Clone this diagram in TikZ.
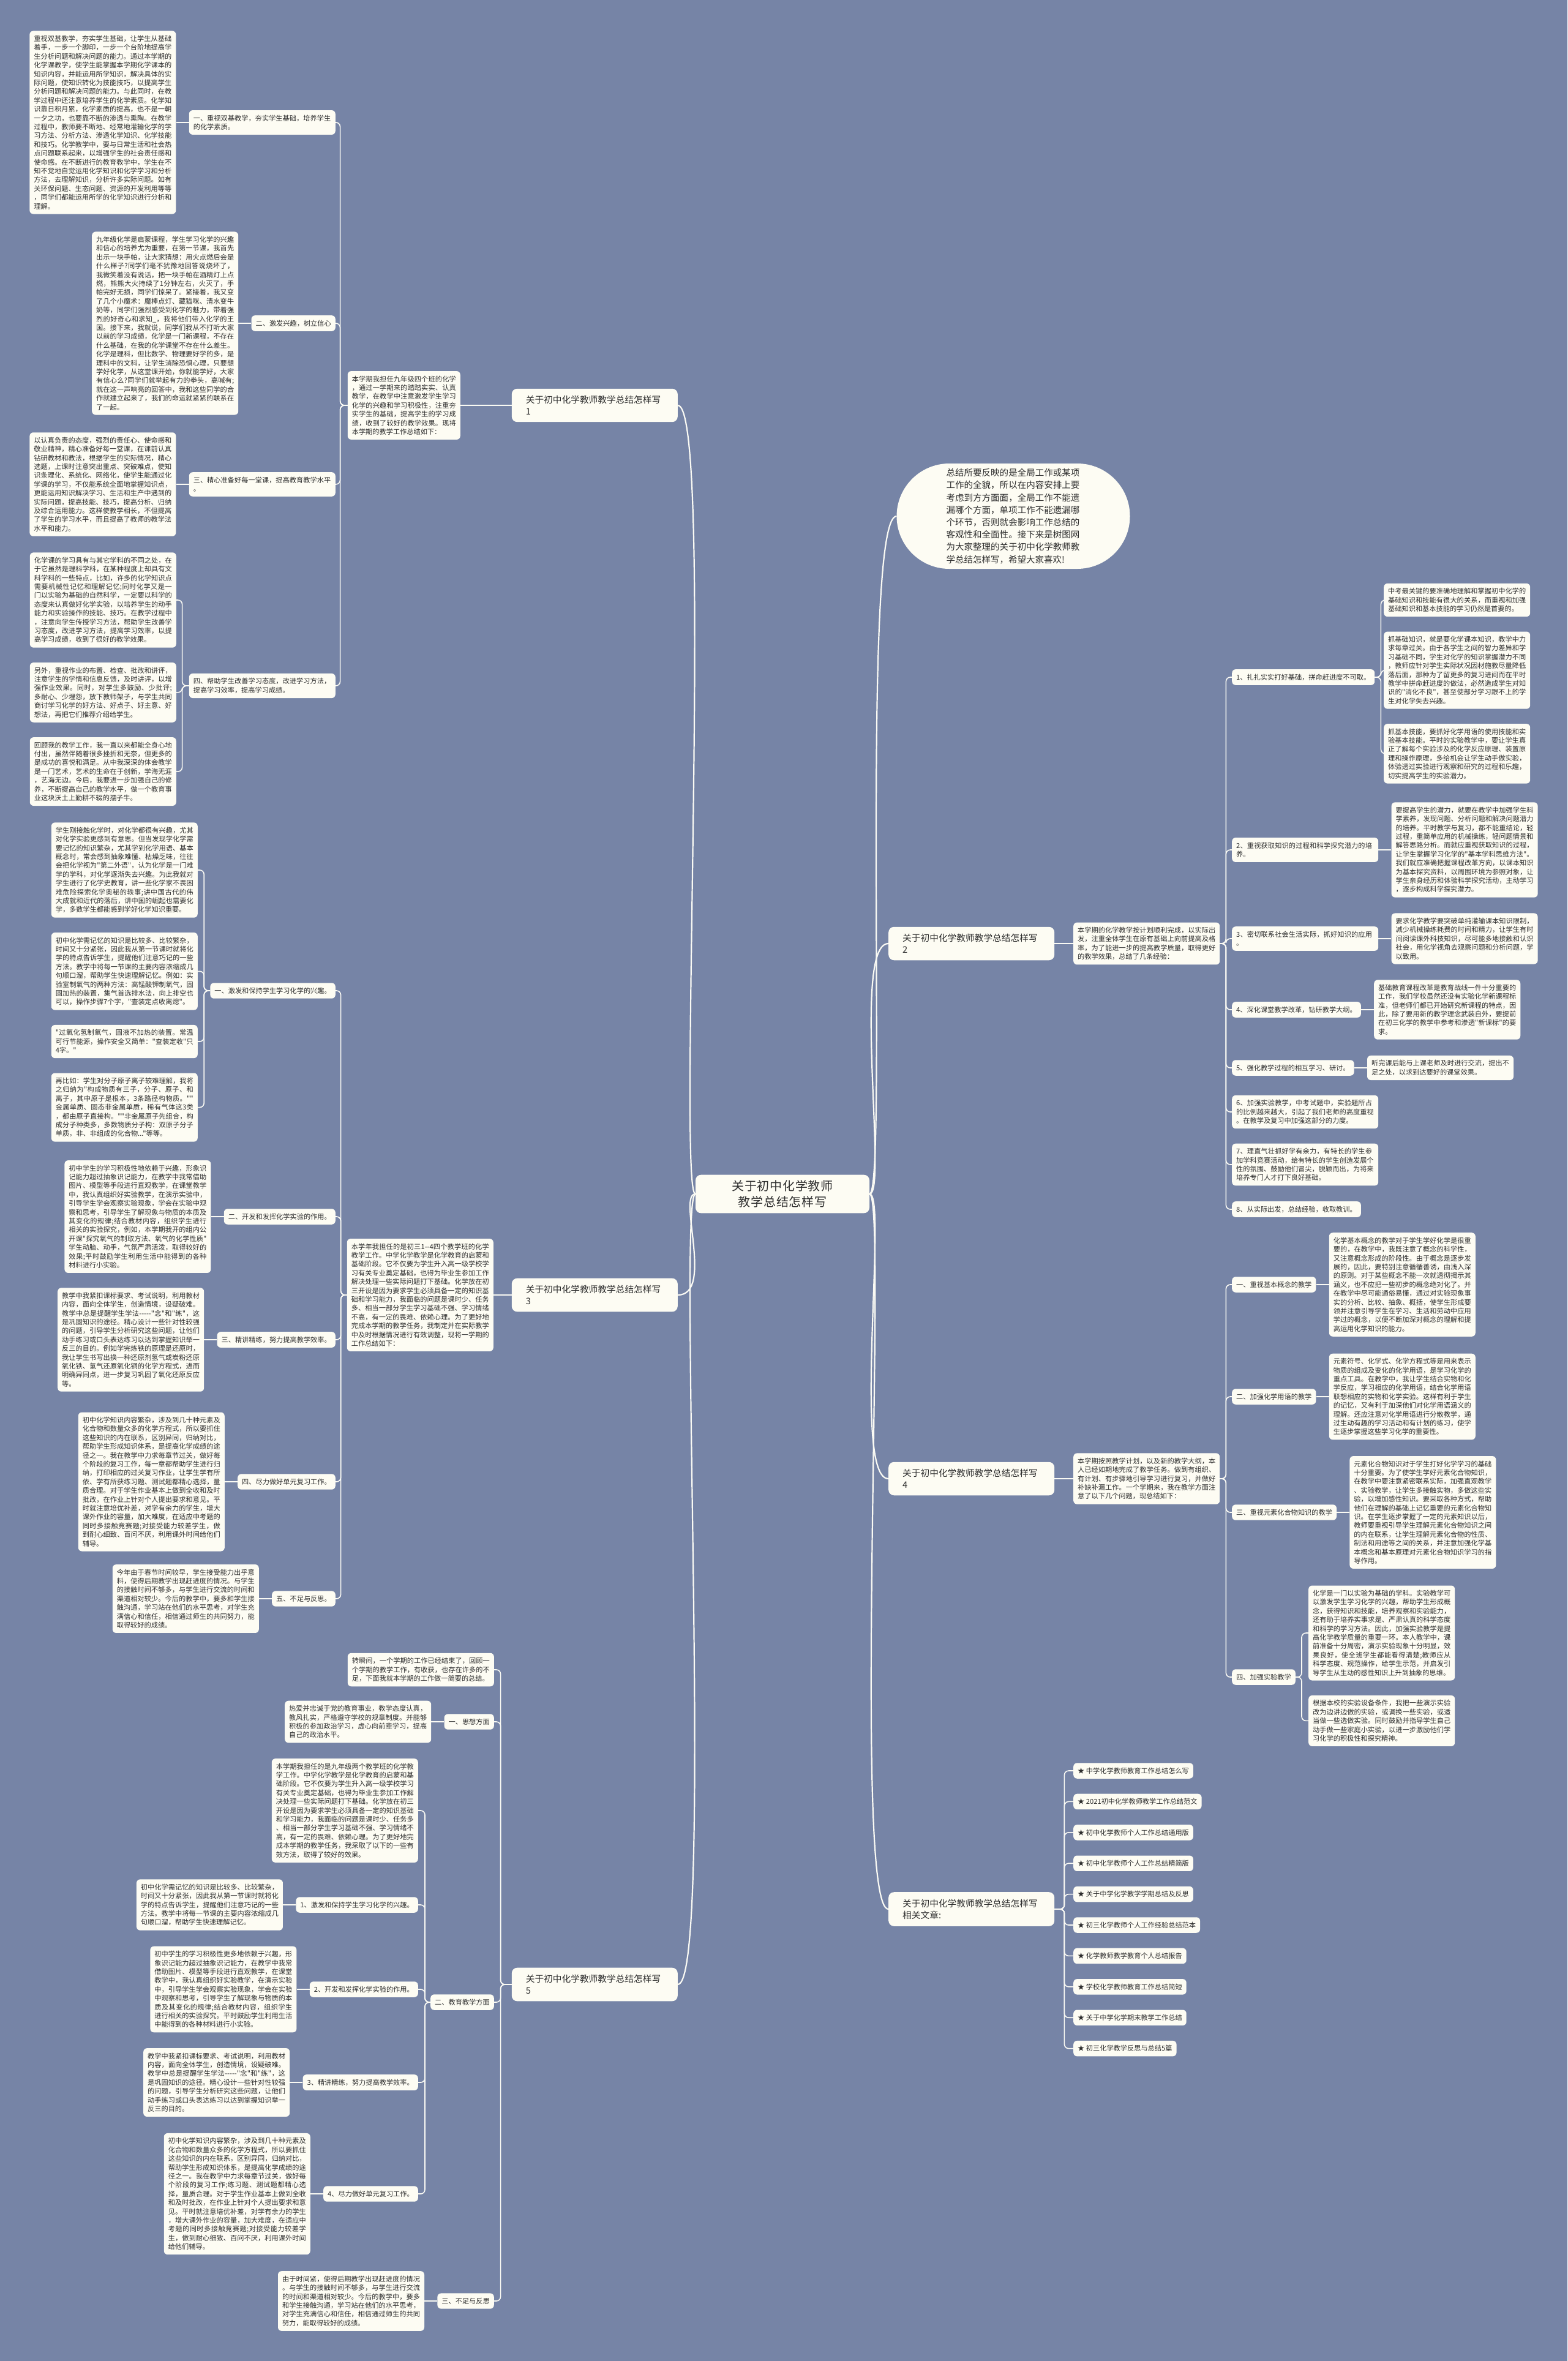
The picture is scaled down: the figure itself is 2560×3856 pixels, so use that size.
\documentclass[tikz,border=0pt]{standalone}
\usepackage{fontspec}
\usepackage{tikz}
\usetikzlibrary{positioning,shapes.misc}
\newfontfamily\cjkfont{Noto Sans CJK SC}
\makeatletter
\newcommand\cjkrange[2]{\count@=#1\relax\loop\XeTeXcharclass\count@=1\relax\ifnum\count@<#2\advance\count@ by 1\relax\repeat}
\cjkrange{"4E00}{"9FFF}
\cjkrange{"3000}{"303F}
\cjkrange{"FF00}{"FFEF}
\makeatother
\XeTeXinterchartokenstate=1
\XeTeXinterchartoks 1 1 = {\hskip 0pt plus 1pt\relax}
\XeTeXinterchartoks 0 1 = {\hskip 0pt plus 1pt\relax}
\XeTeXinterchartoks 1 0 = {\hskip 0pt plus 1pt\relax}
\tolerance=9999
\definecolor{mapbg}{RGB}{118,132,166}
\definecolor{boxfill}{RGB}{253,252,243}
\definecolor{inktext}{RGB}{45,45,45}
\definecolor{wire}{RGB}{250,250,244}
\tikzset{
	link/.style={draw=wire, line width=1.6pt, rounded corners=7pt},
	mainlink/.style={draw=wire, line width=2.2pt},
	centertopic/.style={fill=boxfill, rounded corners=9pt, text=inktext, font=\cjkfont\fontsize{20}{26}\selectfont, text width=222pt, align=center, inner xsep=31pt, inner ysep=9pt},
	summary/.style={rounded rectangle, fill=boxfill, text=inktext, font=\cjkfont\fontsize{14.5}{20.2}\selectfont, text width=219pt, align=left, inner xsep=6pt, inner ysep=8pt, minimum width=393pt, minimum height=172pt},
	branch/.style={fill=boxfill, rounded corners=9pt, text=inktext, font=\cjkfont\fontsize{14.7}{19}\selectfont, text width=225pt, align=left, inner xsep=23pt, inner ysep=11.5pt},
	subtopic/.style={fill=boxfill, rounded corners=6pt, text=inktext, font=\cjkfont\fontsize{11.2}{14.4}\selectfont, inner xsep=7pt, inner ysep=7.5pt},
	wide/.style={text width=225pt, align=left},
	detail/.style={subtopic, text width=225pt, align=justify},
	related/.style={subtopic, anchor=west}
}

\begin{document}
\begin{tikzpicture}[x=1pt,y=-1pt]

	\fill[mapbg] (0,0) rectangle (2560,3856);

	\node[centertopic] (root) at (1278,1950) {关于初中化学教师教学总结怎样写};

	\node[summary] (intro) at (1655,843) {总结所要反映的是全局工作或某项工作的全貌，所以在内容安排上要考虑到方方面面，全局工作不能遗漏哪个方面，单项工作不能遗漏哪个环节，否则就会影响工作总结的客观性和全面性。接下来是树图网为大家整理的关于初中化学教师教学总结怎样写，希望大家喜欢!};

	\node[branch, anchor=east] (b1) at (1107,662) {关于初中化学教师教学总结怎样写\\1};
	\node[branch, anchor=east] (b3) at (1107,2115) {关于初中化学教师教学总结怎样写\\3};
	\node[branch, anchor=east] (b5) at (1107,3241) {关于初中化学教师教学总结怎样写\\5};
	\node[branch, anchor=west] (b2) at (1451,1541) {关于初中化学教师教学总结怎样写\\2};
	\node[branch, anchor=west] (b4) at (1451,2415) {关于初中化学教师教学总结怎样写\\4};
	\node[branch, anchor=west] (b6) at (1451,3118) {关于初中化学教师教学总结怎样写\\相关文章:};

	\draw[mainlink] (root.east) .. controls +(30,0) and +(-60,0) .. (intro.west);
	\draw[mainlink] (root.west) .. controls +(-30,0) and +(60,0) .. (b1.east);
	\draw[mainlink] (root.west) .. controls +(-30,0) and +(60,0) .. (b3.east);
	\draw[mainlink] (root.west) .. controls +(-30,0) and +(60,0) .. (b5.east);
	\draw[mainlink] (root.east) .. controls +(30,0) and +(-60,0) .. (b2.west);
	\draw[mainlink] (root.east) .. controls +(30,0) and +(-60,0) .. (b4.west);
	\draw[mainlink] (root.east) .. controls +(30,0) and +(-60,0) .. (b6.west);

	\node[detail, text width=170pt, anchor=east] (b1i) at (752,662) {本学期我担任九年级四个班的化学，通过一学期来的踏踏实实、认真教学，在教学中注意激发学生学习化学的兴趣和学习积极性，注重夯实学生的基础，提高学生的学习成绩，收到了较好的教学效果。现将本学期的教学工作总结如下：};
	\draw[link] (b1.west) -- (b1i.east);

	\node[subtopic, wide, anchor=east] (b1s1) at (548,200) {一、重视双基教学，夯实学生基础，培养学生的化学素质。};
	\node[subtopic, anchor=east] (b1s2) at (548,528) {二、激发兴趣，树立信心};
	\node[subtopic, wide, anchor=east] (b1s3) at (548,791) {三、精心准备好每一堂课，提高教育教学水平。};
	\node[subtopic, wide, anchor=east] (b1s4) at (548,1120) {四、帮助学生改善学习态度，改进学习方法，提高学习效率，提高学习成绩。};
	\foreach \s in {b1s1,b1s2,b1s3,b1s4}
		\draw[link] (b1i.west) -- ++(-12,0) |- (\s.east);

	\node[detail, left=21pt of b1s1] (b1t1) {重视双基教学，夯实学生基础，让学生从基础着手，一步一个脚印，一步一个台阶地提高学生分析问题和解决问题的能力。通过本学期的化学课教学，使学生能掌握本学期化学课本的知识内容，并能运用所学知识，解决具体的实际问题，使知识转化为技能技巧，以提高学生分析问题和解决问题的能力。与此同时，在教学过程中还注意培养学生的化学素质。化学知识靠日积月累，化学素质的提高，也不是一朝一夕之功，也要靠不断的渗透与熏陶。在教学过程中，教师要不断地、经常地灌输化学的学习方法、分析方法、渗透化学知识、化学技能和技巧。化学教学中，要与日常生活和社会热点问题联系起来，以增强学生的社会责任感和使命感。在不断进行的教育教学中，学生在不知不觉地自觉运用化学知识和化学学习和分析方法，去理解知识，分析许多实际问题。如有关环保问题、生态问题、资源的开发利用等等，同学们都能运用所学的化学知识进行分析和理解。};
	\node[detail, left=21pt of b1s2] (b1t2) {九年级化学是启蒙课程，学生学习化学的兴趣和信心的培养尤为重要，在第一节课，我首先出示一块手帕，让大家猜想：用火点燃后会是什么样子?同学们毫不犹豫地回答说烧坏了，我微笑着没有说话，把一块手帕在酒精灯上点燃，熊熊大火持续了1分钟左右，火灭了，手帕完好无损，同学们惊呆了。紧接着，我又变了几个小魔术：魔棒点灯、藏猫咪、清水变牛奶等，同学们强烈感受到化学的魅力，带着强烈的好奇心和求知\_，我将他们带入化学的王国。接下来，我就说，同学们我从不打听大家以前的学习成绩，化学是一门新课程，不存在什么基础，在我的化学课堂不存在什么差生。化学是理科，但比数学、物理要好学的多，是理科中的文科，让学生消除恐惧心理，只要想学好化学，从这堂课开始，你就能学好，大家有信心么?同学们就举起有力的拳头，高喊有;就在这一声响亮的回答中，我和这些同学的合作就建立起来了，我们的命运就紧紧的联系在了一起。};
	\node[detail, left=21pt of b1s3] (b1t3) {以认真负责的态度，强烈的责任心、使命感和敬业精神，精心准备好每一堂课，在课前认真钻研教材和教法，根据学生的实际情况，精心选题，上课时注意突出重点、突破难点，使知识条理化、系统化、网络化，使学生能通过化学课的学习，不仅能系统全面地掌握知识点，更能运用知识解决学习、生活和生产中遇到的实际问题，提高技能、技巧，提高分析、归纳及综合运用能力。这样使教学相长，不但提高了学生的学习水平，而且提高了教师的教学法水平和能力。};
	\node[detail, anchor=east] (b1t4a) at (288,980) {化学课的学习具有与其它学科的不同之处，在于它虽然是理科学科，在某种程度上却具有文科学科的一些特点，比如，许多的化学知识点需要机械性记忆和理解记忆;同时化学又是一门以实验为基础的自然科学，一定要以科学的态度来认真做好化学实验，以培养学生的动手能力和实验操作的技能、技巧。在教学过程中，注意向学生传授学习方法，帮助学生改善学习态度，改进学习方法，提高学习效率，以提高学习成绩，收到了很好的教学效果。};
	\node[detail, below=24pt of b1t4a] (b1t4b) {另外，重视作业的布置、检查、批改和讲评，注意学生的学情和信息反馈，及时讲评，以增强作业效果。同时，对学生多鼓励、少批评;多耐心、少埋怨，放下教师架子，与学生共同商讨学习化学的好方法、好点子、好主意、好想法，再把它们推荐介绍给学生。};
	\node[detail, below=24pt of b1t4b] (b1t4c) {回顾我的教学工作，我一直以来都能全身心地付出，虽然伴随着很多挫折和无奈，但更多的是成功的喜悦和满足。从中我深深的体会教学是一门艺术，艺术的生命在于创新，学海无涯，艺海无边。今后，我要进一步加强自己的修养，不断提高自己的教学水平，做一个教育事业这块沃土上勤耕不辍的孺子牛。};
	\draw[link] (b1s1.west) -- (b1t1.east);
	\draw[link] (b1s2.west) -- (b1t2.east);
	\draw[link] (b1s3.west) -- (b1t3.east);
	\foreach \t in {b1t4a,b1t4b,b1t4c}
		\draw[link] (b1s4.west) -- ++(-11,0) |- (\t.east);

	\node[detail, anchor=east] (b3i) at (806,2115) {本学年我担任的是初三1--4四个教学班的化学教学工作。中学化学教学是化学教育的启蒙和基础阶段。它不仅要为学生升入高一级学校学习有关专业奠定基础，也得为毕业生参加工作解决处理一些实际问题打下基础。化学放在初三开设是因为要求学生必须具备一定的知识基础和学习能力，我面临的问题是课时少、任务多、相当一部分学生学习基础不强、学习情绪不高，有一定的畏难、依赖心理。为了更好地完成本学期的教学任务，我制定并在实际教学中及时根据情况进行有效调整，现将一学期的工作总结如下：};
	\draw[link] (b3.west) -- (b3i.east);

	\node[subtopic, anchor=east] (b3s1) at (548,1618) {一、激发和保持学生学习化学的兴趣。};
	\node[subtopic, anchor=east] (b3s2) at (548,1987) {二、开发和发挥化学实验的作用。};
	\node[subtopic, anchor=east] (b3s3) at (548,2188) {三、精讲精练，努力提高教学效率。};
	\node[subtopic, anchor=east] (b3s4) at (548,2420) {四、尽力做好单元复习工作。};
	\node[subtopic, anchor=east] (b3s5) at (548,2611) {五、不足与反思。};
	\foreach \s in {b3s1,b3s2,b3s3,b3s4,b3s5}
		\draw[link] (b3i.west) -- ++(-10,0) |- (\s.east);

	\node[detail, anchor=east] (b3t1a) at (323,1421) {学生刚接触化学时，对化学都很有兴趣，尤其对化学实验更感到有意思。但当发现学化学需要记忆的知识繁杂，尤其学到化学用语、基本概念时，常会感到抽象难懂、枯燥乏味，往往会把化学视为"第二外语"，认为化学是一门难学的学科，对化学逐渐失去兴趣。为此我就对学生进行了化学史教育，讲一些化学家不畏困难危险探索化学奥秘的轶事;讲中国古代的伟大成就和近代的落后，讲中国的崛起也需要化学，多数学生都能感到学好化学知识重要。};
	\node[detail, below=24pt of b3t1a] (b3t1b) {初中化学需记忆的知识是比较多、比较繁杂，时间又十分紧张，因此我从第一节课时就将化学的特点告诉学生，提醒他们注意巧记的一些方法。教学中将每一节课的主要内容浓缩成几句顺口溜，帮助学生快速理解记忆。例如：实验室制氧气的两种方法：高锰酸钾制氧气，固固加热的装置，集气首选排水法，向上排空也可以，操作步骤7个字，"查装定点收离熄"。};
	\node[detail, below=24pt of b3t1b] (b3t1c) {"过氧化氢制氧气，固液不加热的装置。常温可行节能源，操作安全又简单："查装定收"只4字。"};
	\node[detail, below=24pt of b3t1c] (b3t1d) {再比如：学生对分子原子离子较难理解，我将之归纳为"构成物质有三子，分子、原子、和离子，其中原子是根本，3条路径构物质。""金属单质、固态非金属单质，稀有气体这3类，都由原子直接构。""非金属原子先组合，构成分子种类多，多数物质分子构：双原子分子单质，非、非组成的化合物..."等等。};
	\foreach \t in {b3t1a,b3t1b,b3t1c,b3t1d}
		\draw[link] (b3s1.west) -- ++(-10,0) |- (\t.east);

	\node[detail, left=21pt of b3s2] (b3t2) {初中学生的学习积极性地依赖于兴趣，形象识记能力超过抽象识记能力，在教学中我常借助图片、模型等手段进行直观教学，在课堂教学中，我认真组织好实验教学，在演示实验中，引导学生学会观察实验现象，学会在实验中观察和思考，引导学生了解现象与物质的本质及其变化的规律;结合教材内容，组织学生进行相关的实验探究，例如，本学期我开的组内公开课"探究氧气的制取方法、氧气的化学性质"学生动脑、动手，气氛严肃活泼，取得较好的效果;平时鼓励学生利用生活中能得到的各种材料进行小实验。};
	\node[detail, left=21pt of b3s3] (b3t3) {教学中我紧扣课标要求、考试说明，利用教材内容，面向全体学生，创造情境，设疑破难。教学中总是提醒学生学法-----"念"和"练"，这是巩固知识的途径。精心设计一些针对性较强的问题，引导学生分析研究这些问题，让他们动手练习或口头表达练习以达到掌握知识举一反三的目的。例如学完炼铁的原理是还原时，我让学生书写出换一种还原剂氢气或炭粉还原氧化铁、氢气还原氧化铜的化学方程式，进而明确异同点，进一步复习巩固了氧化还原反应等。};
	\node[detail, left=21pt of b3s4] (b3t4) {初中化学知识内容繁杂，涉及到几十种元素及化合物和数量众多的化学方程式，所以要抓住这些知识的内在联系，区别异同，归纳对比，帮助学生形成知识体系，是提高化学成绩的途径之一。我在教学中力求每章节过关，做好每个阶段的复习工作，每一章都帮助学生进行归纳，打印相应的过关复习作业，让学生学有所依、学有所获练习题、测试题都精心选择，量质合理。对于学生作业基本上做到全收和及时批改，在作业上针对个人提出要求和意见。平时就注意培优补差，对学有余力的学生，增大课外作业的容量，加大难度，在适应中考题的同时多接触竞赛题;对接受能力较差学生，做到耐心细致、百问不厌，利用课外时间给他们辅导。};
	\node[detail, left=21pt of b3s5] (b3t5) {今年由于春节时间较早，学生接受能力出乎意料，使得后期教学出现赶进度的情况。与学生的接触时间不够多，与学生进行交流的时间和渠道相对较少。今后的教学中，要多和学生接触沟通，学习站在他们的水平思考，对学生充满信心和信任，相信通过师生的共同努力，能取得较好的成绩。};
	\draw[link] (b3s2.west) -- (b3t2.east);
	\draw[link] (b3s3.west) -- (b3t3.east);
	\draw[link] (b3s4.west) -- (b3t4.east);
	\draw[link] (b3s5.west) -- (b3t5.east);

	\node[detail, anchor=east] (b5i) at (807,2727) {转瞬间，一个学期的工作已经结束了，回顾一个学期的教学工作，有收获，也存在许多的不足，下面我就本学期的工作做一简要的总结。};
	\node[subtopic, anchor=east] (b5s1) at (807,2812) {一、思想方面};
	\node[subtopic, anchor=east] (b5s2) at (807,3270) {二、教育教学方面};
	\node[subtopic, anchor=east] (b5s3) at (807,3758) {三、不足与反思};
	\foreach \s in {b5i,b5s1,b5s2,b5s3}
		\draw[link] (b5.west) -- ++(-18,0) |- (\s.east);

	\node[detail, left=21pt of b5s1] (b5t1) {热爱并忠诚于党的教育事业，教学态度认真，教风扎实，严格遵守学校的规章制度。并能够积极的参加政治学习，虚心向前辈学习，提高自己的政治水平。};
	\node[detail, left=21pt of b5s3] (b5t3) {由于时间紧，使得后期教学出现赶进度的情况。与学生的接触时间不够多，与学生进行交流的时间和渠道相对较少。今后的教学中，要多和学生接触沟通，学习站在他们的水平思考，对学生充满信心和信任，相信通过师生的共同努力，能取得较好的成绩。};
	\draw[link] (b5s1.west) -- (b5t1.east);
	\draw[link] (b5s3.west) -- (b5t3.east);

	\node[detail, anchor=east] (b5t2i) at (683,2957) {本学期我担任的是九年级两个教学班的化学教学工作。中学化学教学是化学教育的启蒙和基础阶段。它不仅要为学生升入高一级学校学习有关专业奠定基础，也得为毕业生参加工作解决处理一些实际问题打下基础。化学放在初三开设是因为要求学生必须具备一定的知识基础和学习能力，我面临的问题是课时少、任务多、相当一部分学生学习基础不强、学习情绪不高，有一定的畏难、依赖心理。为了更好地完成本学期的教学任务，我采取了以下的一些有效方法，取得了较好的效果。};
	\node[subtopic, anchor=east] (b5s2a) at (683,3111) {1、激发和保持学生学习化学的兴趣。};
	\node[subtopic, anchor=east] (b5s2b) at (683,3249) {2、开发和发挥化学实验的作用。};
	\node[subtopic, anchor=east] (b5s2c) at (683,3401) {3、精讲精练，努力提高教学效率。};
	\node[subtopic, anchor=east] (b5s2d) at (683,3583) {4、尽力做好单元复习工作。};
	\foreach \s in {b5t2i,b5s2a,b5s2b,b5s2c,b5s2d}
		\draw[link] (b5s2.west) -- ++(-9,0) |- (\s.east);

	\node[detail, left=21pt of b5s2a] (b5t2a) {初中化学需记忆的知识是比较多、比较繁杂，时间又十分紧张，因此我从第一节课时就将化学的特点告诉学生，提醒他们注意巧记的一些方法。教学中将每一节课的主要内容浓缩成几句顺口溜，帮助学生快速理解记忆。};
	\node[detail, left=21pt of b5s2b] (b5t2b) {初中学生的学习积极性更多地依赖于兴趣，形象识记能力超过抽象识记能力，在教学中我常借助图片、模型等手段进行直观教学，在课堂教学中，我认真组织好实验教学，在演示实验中，引导学生学会观察实验现象，学会在实验中观察和思考，引导学生了解现象与物质的本质及其变化的规律;结合教材内容，组织学生进行相关的实验探究。平时鼓励学生利用生活中能得到的各种材料进行小实验。};
	\node[detail, left=21pt of b5s2c] (b5t2c) {教学中我紧扣课标要求、考试说明，利用教材内容，面向全体学生，创造情境，设疑破难。教学中总是提醒学生学法-----"念"和"练"，这是巩固知识的途径。精心设计一些针对性较强的问题，引导学生分析研究这些问题，让他们动手练习或口头表达练习以达到掌握知识举一反三的目的。};
	\node[detail, left=21pt of b5s2d] (b5t2d) {初中化学知识内容繁杂，涉及到几十种元素及化合物和数量众多的化学方程式，所以要抓住这些知识的内在联系，区别异同，归纳对比，帮助学生形成知识体系，是提高化学成绩的途径之一。我在教学中力求每章节过关，做好每个阶段的复习工作;练习题、测试题都精心选择，量质合理。对于学生作业基本上做到全收和及时批改，在作业上针对个人提出要求和意见。平时就注意培优补差，对学有余力的学生，增大课外作业的容量，加大难度，在适应中考题的同时多接触竞赛题;对接受能力较差学生，做到耐心细致、百问不厌，利用课外时间给他们辅导。};
	\draw[link] (b5s2a.west) -- (b5t2a.east);
	\draw[link] (b5s2b.west) -- (b5t2b.east);
	\draw[link] (b5s2c.west) -- (b5t2c.east);
	\draw[link] (b5s2d.west) -- (b5t2d.east);

	\node[detail, anchor=west] (b2i) at (1753,1541) {本学期的化学教学按计划顺利完成，以实际出发，注重全体学生在原有基础上向前提高及格率，为了能进一步的提高教学质量，取得更好的教学效果，总结了几条经验：};
	\draw[link] (b2.east) -- (b2i.west);

	\node[subtopic, anchor=west] (b2s1) at (2012,1106) {1、扎扎实实打好基础，拼命赶进度不可取。};
	\node[subtopic, wide, anchor=west] (b2s2) at (2012,1388) {2、重视获取知识的过程和科学探究潜力的培养。};
	\node[subtopic, wide, anchor=west] (b2s3) at (2012,1533) {3、密切联系社会生活实际，抓好知识的应用。};
	\node[subtopic, anchor=west] (b2s4) at (2012,1649) {4、深化课堂教学改革，钻研教学大纲。};
	\node[subtopic, anchor=west] (b2s5) at (2012,1744) {5、强化教学过程的相互学习、研讨。};
	\node[subtopic, wide, anchor=west] (b2s6) at (2012,1816) {6、加强实验教学，中考试题中，实验题所占的比例越来越大，引起了我们老师的高度重视。在教学及复习中加强这部分的力度。};
	\node[subtopic, wide, anchor=west] (b2s7) at (2012,1902) {7、理直气壮抓好学有余力，有特长的学生参加学科竞赛活动，给有特长的学生创造发展个性的氛围、鼓励他们冒尖，脱颖而出，为将来培养专门人才打下良好基础。};
	\node[subtopic, anchor=west] (b2s8) at (2012,1975) {8、从实际出发，总结经验，收取教训。};
	\foreach \s in {b2s1,b2s2,b2s3,b2s4,b2s5,b2s6,b2s7,b2s8}
		\draw[link] (b2i.east) -- ++(10,0) |- (\s.west);

	\node[detail, anchor=west] (b2t1a) at (2260,980) {中考最关键的要准确地理解和掌握初中化学的基础知识和技能有很大的关系，而重视和加强基础知识和基本技能的学习仍然是首要的。};
	\node[detail, below=24pt of b2t1a] (b2t1b) {抓基础知识，就是要化学课本知识，教学中力求每章过关。由于各学生之间的智力差异和学习基础不同，学生对化学的知识掌握潜力不同，教师应针对学生实际状况因材施教尽量降低落后面，那种为了留更多的复习进间而在平时教学中拼命赶进度的做法，必然造成学生对知识的"消化不良"，甚至使部分学习跟不上的学生对化学失去兴趣。};
	\node[detail, below=24pt of b2t1b] (b2t1c) {抓基本技能，要抓好化学用语的使用技能和实验基本技能。平时的实验教学中，要让学生真正了解每个实验涉及的化学反应原理、装置原理和操作原理，多给机会让学生动手做实验，体验透过实验进行观察和研究的过程和乐趣，切实提高学生的实验潜力。};
	\foreach \t in {b2t1a,b2t1b,b2t1c}
		\draw[link] (b2s1.east) -- ++(10,0) |- (\t.west);

	\node[detail, right=21pt of b2s2] (b2t2) {要提高学生的潜力，就要在教学中加强学生科学素养，发现问题、分析问题和解决问题潜力的培养。平时教学与复习，都不能重结论，轻过程，重简单应用的机械操练，轻问题情景和解答思路分析。而就应重视获取知识的过程，让学生掌握学习化学的"基本学科思维方法"。我们就应准确把握课程改革方向，以课本知识为基本探究资料，以周围环境为参照对象，让学生亲身经历和体验科学探究活动，主动学习，逐步构成科学探究潜力。};
	\node[detail, right=21pt of b2s3] (b2t3) {要求化学教学要突破单纯灌输课本知识限制，减少机械操练耗费的时间和精力，让学生有时间阅读课外科技知识，尽可能多地接触和认识社会，用化学视角去观察问题和分析问题，学以致用。};
	\node[detail, right=21pt of b2s4] (b2t4) {基础教育课程改革是教育战线一件十分重要的工作，我们学校虽然还没有实验化学新课程标准，但老师们都已开始研究新课程的特点，因此，除了要用新的教学理念武装自外，要提前在初三化学的教学中参考和渗透"新课标"的要求。};
	\node[detail, right=21pt of b2s5] (b2t5) {听完课后能与上课老师及时进行交流，提出不足之处，以求到达要好的课堂效果。};
	\draw[link] (b2s2.east) -- (b2t2.west);
	\draw[link] (b2s3.east) -- (b2t3.west);
	\draw[link] (b2s4.east) -- (b2t4.west);
	\draw[link] (b2s5.east) -- (b2t5.west);

	\node[detail, anchor=west] (b4i) at (1753,2415) {本学期按照教学计划，以及新的教学大纲，本人已经如期地完成了教学任务。做到有组织、有计划、有步骤地引导学习进行复习，并做好补缺补漏工作。一个学期来，我在教学方面注意了以下几个问题，现总结如下：};
	\draw[link] (b4.east) -- (b4i.west);

	\node[subtopic, anchor=west] (b4s1) at (2012,2098) {一、重视基本概念的教学};
	\node[subtopic, anchor=west] (b4s2) at (2012,2281) {二、加强化学用语的教学};
	\node[subtopic, anchor=west] (b4s3) at (2012,2470) {三、重视元素化合物知识的教学};
	\node[subtopic, anchor=west] (b4s4) at (2012,2739) {四、加强实验教学};
	\foreach \s in {b4s1,b4s2,b4s3,b4s4}
		\draw[link] (b4i.east) -- ++(10,0) |- (\s.west);

	\node[detail, right=21pt of b4s1] (b4t1) {化学基本概念的教学对于学生学好化学是很重要的，在教学中，我既注意了概念的科学性，又注意概念形成的阶段性。由于概念是逐步发展的，因此，要特别注意循循善诱，由浅入深的原则。对于某些概念不能一次就透彻揭示其涵义，也不应把一些初步的概念绝对化了。并在教学中尽可能通俗易懂，通过对实验现象事实的分析、比较、抽象、概括，使学生形成要领并注意引导学生在学习、生活和劳动中应用学过的概念，以便不断加深对概念的理解和提高运用化学知识的能力。};
	\node[detail, right=21pt of b4s2] (b4t2) {元素符号、化学式、化学方程式等是用来表示物质的组成及变化的化学用语，是学习化学的重点工具。在教学中，我让学生结合实物和化学反应，学习相应的化学用语，结合化学用语联想相应的实物和化学实验。这样有利于学生的记忆，又有利于加深他们对化学用语涵义的理解。还应注意对化学用语进行分散教学，通过生动有趣的学习活动和有计划的练习，使学生逐步掌握这些学习化学的重要性。};
	\node[detail, right=21pt of b4s3] (b4t3) {元素化合物知识对于学生打好化学学习的基础十分重要。为了使学生学好元素化合物知识，在教学中要注意紧密联系实际，加强直观教学、实验教学，让学生多接触实物，多做这些实验，以增加感性知识。要采取各种方式，帮助他们在理解的基础上记忆重要的元素化合物知识。在学生逐步掌握了一定的元素知识以后，教师要重视引导学生理解元素化合物知识之间的内在联系，让学生理解元素化合物的性质、制法和用途等之间的关系，并注意加强化学基本概念和基本原理对元素化合物知识学习的指导作用。};
	\draw[link] (b4s1.east) -- (b4t1.west);
	\draw[link] (b4s2.east) -- (b4t2.west);
	\draw[link] (b4s3.east) -- (b4t3.west);

	\node[detail, anchor=west] (b4t4a) at (2137,2667) {化学是一门以实验为基础的学科。实验教学可以激发学生学习化学的兴趣，帮助学生形成概念，获得知识和技能，培养观察和实验能力，还有助于培养实事求是、严肃认真的科学态度和科学的学习方法。因此，加强实验教学是提高化学教学质量的重要一环。本人教学中，课前准备十分周密，演示实验现象十分明显，效果良好，使全班学生都能看得清楚;教师应从科学态度、规范操作，给学生示范，并启发引导学生从生动的感性知识上升到抽象的思维。};
	\node[detail, below=24pt of b4t4a] (b4t4b) {根据本校的实验设备条件，我把一些演示实验改为边讲边做的实验，或调换一些实验，或适当做一些选做实验。同时鼓励并指导学生自己动手做一些家庭小实验，以进一步激励他们学习化学的积极性和探究精神。};
	\foreach \t in {b4t4a,b4t4b}
		\draw[link] (b4s4.east) -- ++(10,0) |- (\t.west);

	\foreach \title [count=\k] in {中学化学教师教育工作总结怎么写,2021初中化学教师教学工作总结范文,初中化学教师个人工作总结通用版,初中化学教师个人工作总结精简版,关于中学化学教学学期总结及反思,初三化学教师个人工作经验总结范本,化学教师教学教育个人总结报告,学校化学教师教育工作总结简短,关于中学化学期末教学工作总结,初三化学教学反思与总结5篇}{
		\node[related] (rel\k) at (1753,{2892+50.4*(\k-1)}) {★ \title};
		\draw[link] (b6.east) -- ++(16,0) |- (rel\k.west);
	}

\end{tikzpicture}
\end{document}
